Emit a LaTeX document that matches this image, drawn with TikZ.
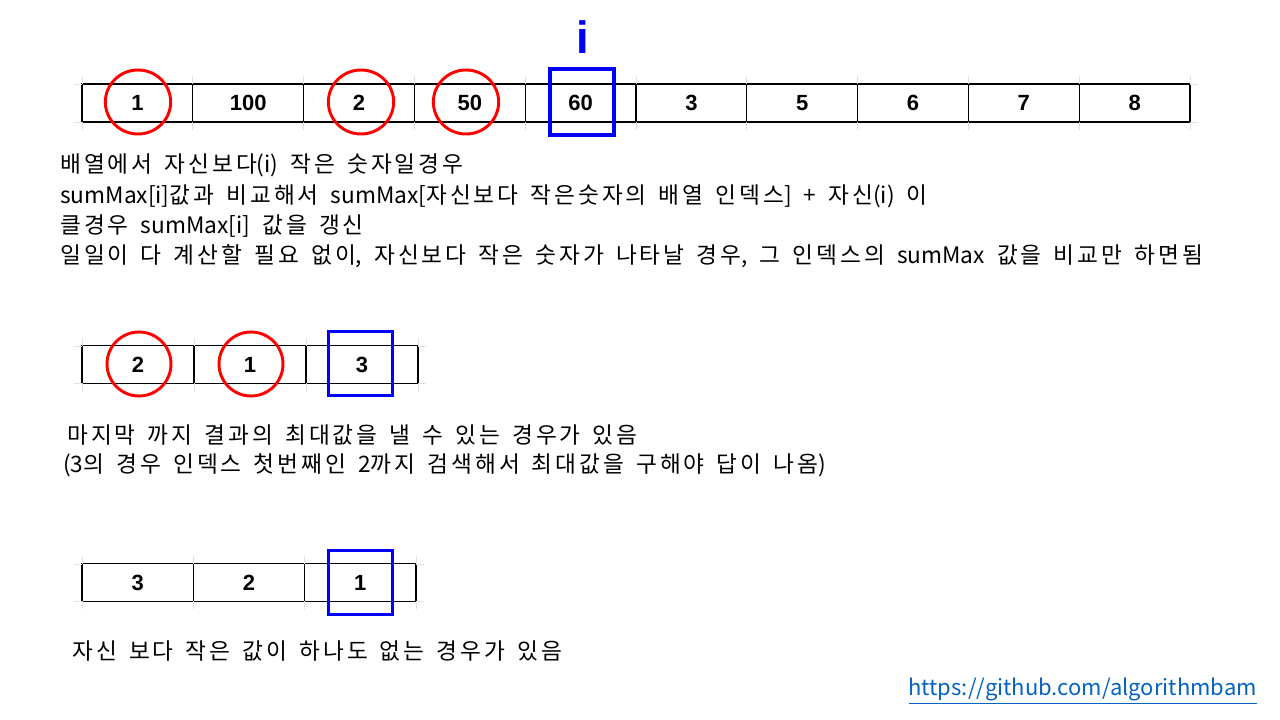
\documentclass[tikz,border=0pt]{standalone}
\usepackage{fontspec}
\usetikzlibrary{shapes.geometric}
\setmainfont{Noto Sans CJK KR}
\newfontfamily\krfont[LetterSpace=13]{Noto Sans CJK KR}
\newfontfamily\plainfont{Noto Sans CJK KR}
\newfontfamily\numfont{Liberation Sans}
\newcommand\mytxtfont{\krfont\fontsize{17}{19}\selectfont\spaceskip=9.1pt\relax}
\newcommand\latn[1]{{\plainfont #1}}
\begin{document}
\begin{tikzpicture}[x=0.75pt,y=-0.75pt,
  cellbox/.style={draw=black,line width=0.9pt,minimum height=28.5pt,inner sep=0pt,font=\numfont\bfseries\fontsize{16.5}{16.5}\selectfont},
  redring/.style={draw=red,line width=2.2pt,ellipse,minimum width=48pt,minimum height=48pt},
  bluesq/.style={draw=blue,line width=2.6pt,minimum width=48pt,minimum height=48pt,inner sep=0pt},
  tick/.style={draw=black!12,line width=0.6pt},
  txt/.style={anchor=west,inner sep=0pt,font=\mytxtfont}]
\useasboundingbox (0,0) rectangle (1280,720);
\fill[white] (0,0) rectangle (1280,720);

% ---------- top array ----------
\foreach \v [count=\k from 0] in {1,100,2,50,60,3,5,6,7,8}{
  \node[cellbox,minimum width=83.1pt] (t\k) at ({82+110.8*\k+55.4},103) {\v};
}
\foreach \k in {0,...,10}{
  \draw[tick] ({82+110.8*\k},76) -- ({82+110.8*\k},84);
  \draw[tick] ({82+110.8*\k},122) -- ({82+110.8*\k},130);
}
\draw[tick] (74,84) -- (82,84); \draw[tick] (74,122) -- (82,122);
\draw[tick] (1190,84) -- (1198,84); \draw[tick] (1190,122) -- (1198,122);
\node[redring,minimum width=49pt] (c1) at (138,102) {};
\node[redring,minimum width=49pt] (c2) at (361,102) {};
\node[redring,minimum width=49pt] (c3) at (466,102) {};
\node[bluesq,minimum width=48pt,minimum height=49.5pt] (b1) at (582,102) {};
\node[inner sep=0pt,text=blue,font=\numfont\bfseries\fontsize{34}{34}\selectfont] (iv) at (583,37) {i};

\node[txt] (l1) at (60,165) {배열에서 자신보다\latn{(i)} 작은 숫자일경우};
\node[txt] (l2) at (60,196) {\latn{sumMax[i]}값과 비교해서 \latn{sumMax[}자신보다 작은숫자의 배열 인덱스\latn{]} \latn{+} 자신\latn{(i)} 이};
\node[txt] (l3) at (60,226) {클경우 \latn{sumMax[i]} 값을 갱신};
\node[txt] (l4) at (60,256) {일일이 다 계산할 필요 없이\latn{,} 자신보다 작은 숫자가 나타날 경우\latn{,} 그 인덱스의 \latn{sumMax} 값을 비교만 하면됨};

% ---------- second array ----------
\foreach \v [count=\k from 0] in {2,1,3}{
  \node[cellbox,minimum width=84pt] (s\k) at ({82+112*\k+56},364.5) {\v};
}
\foreach \k in {0,...,3}{
  \draw[tick] ({82+112*\k},338) -- ({82+112*\k},346);
  \draw[tick] ({82+112*\k},383) -- ({82+112*\k},391);
}
\draw[tick] (74,346) -- (82,346); \draw[tick] (74,383) -- (82,383);
\draw[tick] (418,346) -- (426,346); \draw[tick] (418,383) -- (426,383);
\node[redring] (c4) at (139,364) {};
\node[redring] (c5) at (251,364) {};
\node[bluesq] (b2) at (360.5,363.5) {};

\node[txt] (m1) at (67,435) {마지막 까지 결과의 최대값을 낼 수 있는 경우가 있음};
\node[txt] (m2) at (63,465) {\latn{(3}의 경우 인덱스 첫번째인 \latn{2}까지 검색해서 최대값을 구해야 답이 나옴\latn{)}};

% ---------- third array ----------
\foreach \v [count=\k from 0] in {3,2,1}{
  \node[cellbox,minimum width=83.5pt] (u\k) at ({82+111.3*\k+55.65},582.5) {\v};
}
\foreach \k in {0,...,3}{
  \draw[tick] ({82+111.3*\k},556) -- ({82+111.3*\k},564);
  \draw[tick] ({82+111.3*\k},601) -- ({82+111.3*\k},609);
}
\draw[tick] (74,564) -- (82,564); \draw[tick] (74,601) -- (82,601);
\draw[tick] (416,564) -- (424,564); \draw[tick] (416,601) -- (424,601);
\node[bluesq] (b3) at (360.5,582.5) {};

\node[txt] (n1) at (72,651) {자신 보다 작은 값이 하나도 없는 경우가 있음};

\node[anchor=east,inner sep=0pt,text={rgb,255:red,5;green,99;blue,193},font=\fontsize{16.5}{18}\selectfont] (lnk) at (1257,691) {\underline{https://github.com/algorithmbam}};
\end{tikzpicture}
\end{document}
